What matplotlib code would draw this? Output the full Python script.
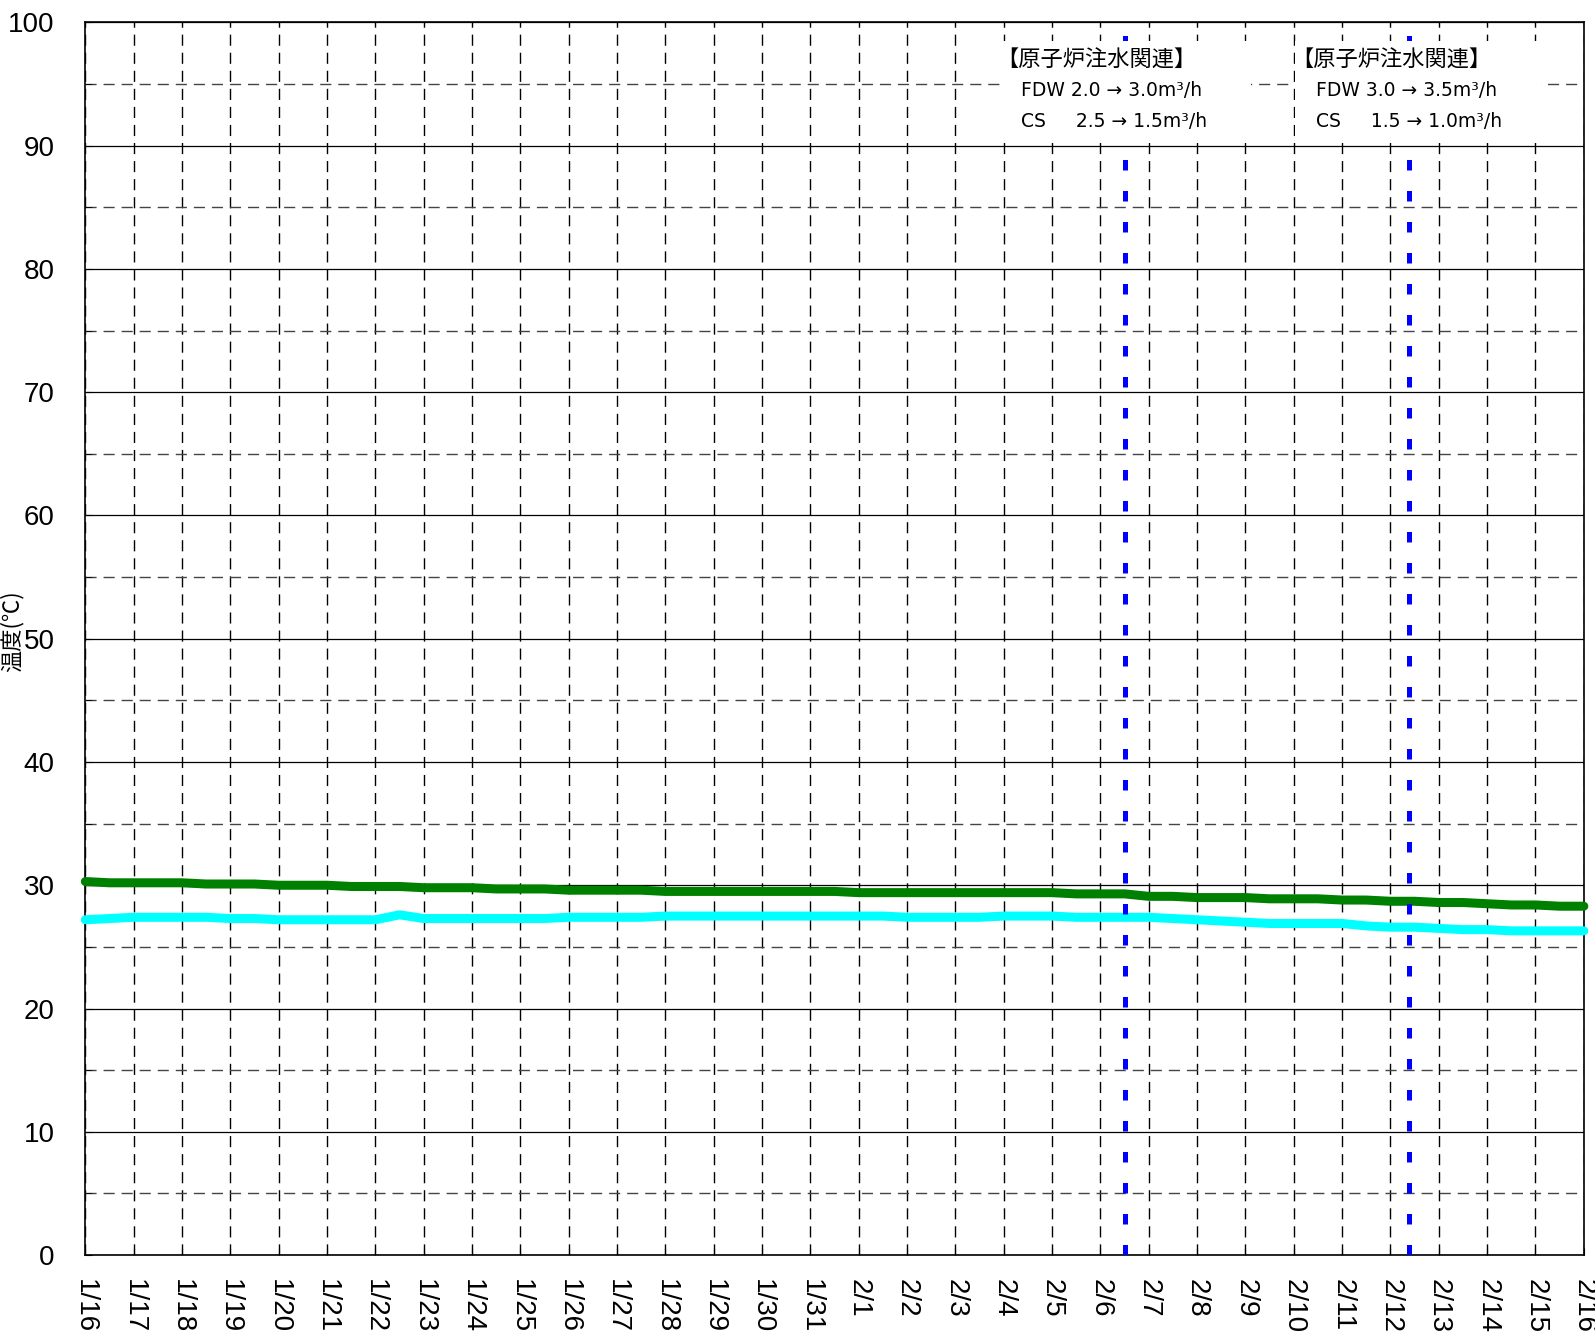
import matplotlib
matplotlib.use("Agg")
import matplotlib.pyplot as plt
from matplotlib.patches import Rectangle

plt.rcParams['font.family'] = ['Liberation Sans', 'Noto Sans CJK JP', 'DejaVu Sans']

# ---- data ----
day_labels = ['1/16', '1/17', '1/18', '1/19', '1/20', '1/21', '1/22', '1/23', '1/24', '1/25',
              '1/26', '1/27', '1/28', '1/29', '1/30', '1/31', '2/1', '2/2', '2/3', '2/4',
              '2/5', '2/6', '2/7', '2/8', '2/9', '2/10', '2/11', '2/12', '2/13', '2/14',
              '2/15', '2/16']
# sample times: days since 1/16 0:00, every 12 hours
t = [i * 0.5 for i in range(63)]
green = [30.3, 30.2, 30.2, 30.2, 30.2, 30.1, 30.1, 30.1, 30.0, 30.0,
         30.0, 29.9, 29.9, 29.9, 29.8, 29.8, 29.8, 29.7, 29.7, 29.7,
         29.6, 29.6, 29.6, 29.6, 29.5, 29.5, 29.5, 29.5, 29.5, 29.5,
         29.5, 29.5, 29.4, 29.4, 29.4, 29.4, 29.4, 29.4, 29.4, 29.4,
         29.4, 29.3, 29.3, 29.3, 29.1, 29.1, 29.0, 29.0, 29.0, 28.9,
         28.9, 28.9, 28.8, 28.8, 28.7, 28.7, 28.6, 28.6, 28.5, 28.4,
         28.4, 28.3, 28.3]
cyan = [27.2, 27.3, 27.4, 27.4, 27.4, 27.4, 27.3, 27.3, 27.2, 27.2,
        27.2, 27.2, 27.2, 27.6, 27.3, 27.3, 27.3, 27.3, 27.3, 27.3,
        27.4, 27.4, 27.4, 27.4, 27.5, 27.5, 27.5, 27.5, 27.5, 27.5,
        27.5, 27.5, 27.5, 27.5, 27.4, 27.4, 27.4, 27.4, 27.5, 27.5,
        27.5, 27.4, 27.4, 27.4, 27.4, 27.3, 27.2, 27.1, 27.0, 26.9,
        26.9, 26.9, 26.9, 26.7, 26.6, 26.6, 26.5, 26.4, 26.4, 26.3,
        26.3, 26.3, 26.3]

event_days = [21.5, 27.38]
notes = [
    ["【原子炉注水関連】", "FDW 2.0 → 3.0m³/h", "CS     2.5 → 1.5m³/h"],
    ["【原子炉注水関連】", "FDW 3.0 → 3.5m³/h", "CS     1.5 → 1.0m³/h"],
]
ylabel = "温度(℃)"

# ---- figure ----
fig = plt.figure(figsize=(15.95, 13.43), dpi=100)
ax = fig.add_axes([0.0535, 0.0655, 0.9395, 0.9178])

ax.plot(t, green, color='#008000', lw=6.5, solid_capstyle='round',
        solid_joinstyle='round', zorder=3, clip_on=False)
ax.plot(t, cyan, color='#00FFFF', lw=6.5, solid_capstyle='round',
        solid_joinstyle='round', zorder=3, clip_on=False)

for d in event_days:
    ax.axvline(d, color='#0000FF', lw=3.6, dashes=(2.1, 4.1), zorder=4)

ax.set_xlim(0, 31)
ax.set_ylim(0, 100)
ax.set_xticks(range(32))
ax.set_xticklabels(day_labels, rotation=270, fontsize=20)
ax.set_yticks(range(0, 101, 10))
ax.set_yticks(range(5, 100, 10), minor=True)
ax.tick_params(axis='y', which='both', direction='in', length=5, labelsize=20, pad=22)
ax.tick_params(axis='x', which='both', direction='in', length=5, pad=17)
ax.grid(axis='x', which='major', color='black', lw=1.0, dashes=(8, 5))
ax.grid(axis='y', which='major', color='black', lw=0.9, ls='-')
ax.grid(axis='y', which='minor', color='#444444', lw=1.0, dashes=(8, 5))
ax.set_axisbelow(True)
for s in ax.spines.values():
    s.set_linewidth(1.2)

# annotation boxes
boxes = [(0.611, 0.905, 0.167, 0.080), (0.8075, 0.905, 0.164, 0.080)]
for (bx, by, bw, bh), lines in zip(boxes, notes):
    ax.add_patch(Rectangle((bx, by), bw, bh, transform=ax.transAxes,
                           facecolor='white', edgecolor='none', zorder=5))
    ax.text(bx - 0.003, 0.969, lines[0], transform=ax.transAxes, fontsize=16,
            va='center', ha='left', zorder=6, family=['Noto Sans CJK JP'])
    ax.text(bx + 0.0135, 0.9445, lines[1], transform=ax.transAxes, fontsize=13.5,
            va='center', ha='left', zorder=6, family=['DejaVu Sans'])
    ax.text(bx + 0.0135, 0.9200, lines[2], transform=ax.transAxes, fontsize=13.5,
            va='center', ha='left', zorder=6, family=['DejaVu Sans'])

fig.text(0.0075, 0.53, ylabel, rotation=90, fontsize=16, ha='center', va='center',
         family=['Noto Sans CJK JP'])

fig.savefig('out.png', dpi=100)
